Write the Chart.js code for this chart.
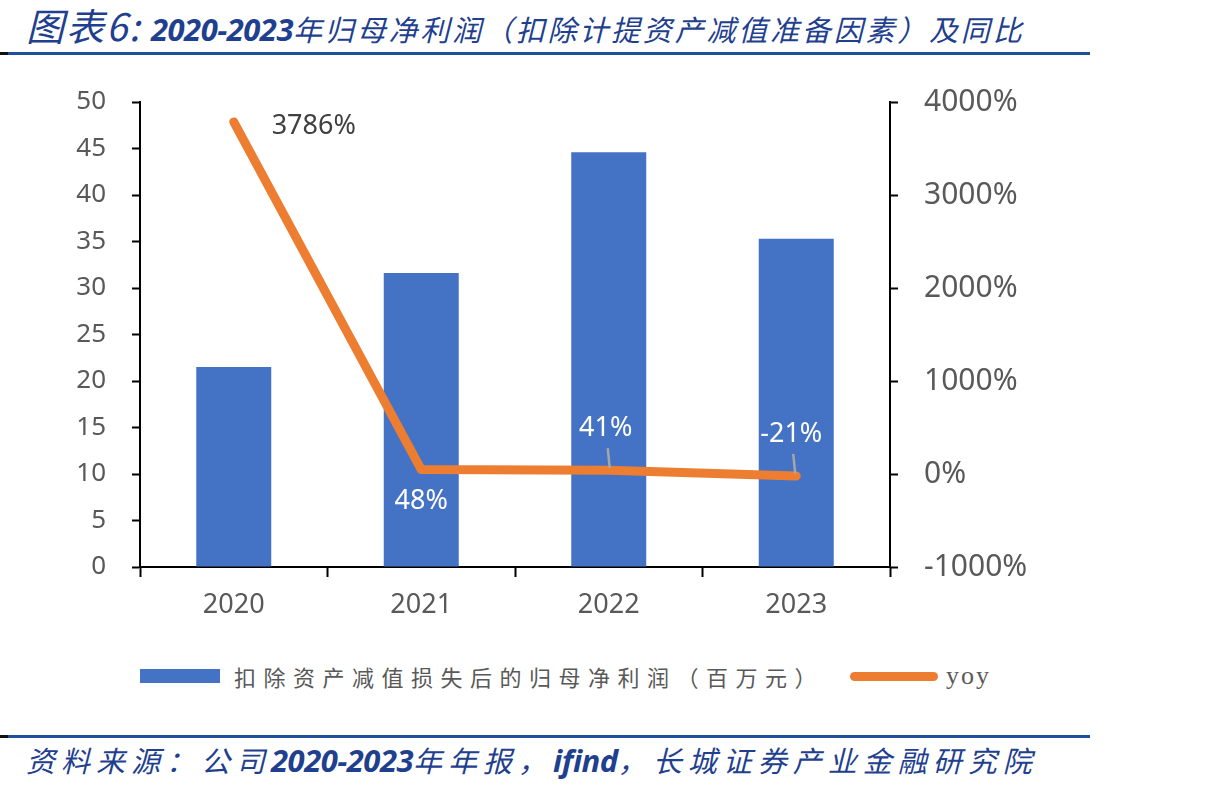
<!DOCTYPE html>
<html>
<head>
<meta charset="utf-8">
<script src="https://cdn.jsdelivr.net/npm/chart.js@4.4.0/dist/chart.umd.min.js"></script>
<style>
  body { margin: 0; width: 1210px; height: 793px; background: #fff; position: relative; overflow: hidden; font-family: "Noto Sans CJK SC", "Noto Sans", sans-serif; }
  .title { position: absolute; left: 26px; top: -3px; color: #1F3F8F; font-style: italic; font-size: 29px; letter-spacing: 2.8px; white-space: nowrap; }
  .title .big { font-size: 38px; letter-spacing: 2px; }
  .title b, .src b { font-family: "Open Sans", sans-serif; font-weight: 700; letter-spacing: -0.5px; font-size: 31px; }
  .rule { position: absolute; left: 8px; width: 1082px; height: 3px; background: #1F4E9A; }
  .rule::before { content: ""; position: absolute; left: -8px; width: 8px; height: 3px; background: #111; }
  .src { position: absolute; left: 26px; top: 738px; color: #1F3F8F; font-style: italic; font-size: 29px; letter-spacing: 6px; white-space: nowrap; }
  #wrap { position: absolute; left: 0; top: 0; width: 1210px; height: 640px; }
  .legend { position: absolute; top: 660px; left: 140px; display: flex; align-items: center; color: #595959; font-size: 22px; }
  .legend .bar { width: 80px; height: 14px; background: #4472C4; margin-right: 14px; }
  .legend .txt { letter-spacing: 7.5px; }
  .legend .line { width: 88px; height: 9px; border-radius: 5px; background: #ED7D31; margin-left: 26px; margin-right: 8px; }
  .legend .yoy { font-family: 'Liberation Serif', serif; font-size: 26px; letter-spacing: 2px; }
</style>
</head>
<body>
<div class="title"><span class="big">图表6:</span>&nbsp;<b>2020-2023</b>年归母净利润（扣除计提资产减值准备因素）及同比</div>
<div class="rule" style="top:52px"></div>
<div id="wrap"><canvas id="chart"></canvas></div>
<div class="legend"><div class="bar"></div><span class="txt">扣除资产减值损失后的归母净利润（百万元）</span><div class="line"></div><span class="yoy">yoy</span></div>
<div class="rule" style="top:735px"></div>
<div class="src">资料来源：公司<b>2020-2023</b>年年报，<b>ifind</b>，长城证券产业金融研究院</div>
<script>
// data
const years = ['2020', '2021', '2022', '2023'];
const profit = [21.5, 31.6, 44.6, 35.3];
const yoy = [3786, 48, 41, -21];
const yoyLabels = ['3786%', '48%', '41%', '-21%'];

// label placement for yoy points: dx, dy, colour, leader line
const labelStyle = [
    { dx: 80, dy: 4, color: '#404040', leader: false },
    { dx: 0, dy: 32, color: '#ffffff', leader: false },
    { dx: -3, dy: -42, color: '#ffffff', leader: true },
    { dx: -5, dy: -42, color: '#ffffff', leader: true }
];

const yoyLabelPlugin = {
    id: 'yoyLabels',
    afterDatasetsDraw(chart) {
        const ctx = chart.ctx;
        const meta = chart.getDatasetMeta(1);
        ctx.save();
        ctx.font = '27px "Noto Sans", sans-serif';
        ctx.textAlign = 'center';
        ctx.textBaseline = 'middle';
        meta.data.forEach((pt, i) => {
            const s = labelStyle[i];
            const lx = pt.x + s.dx, ly = pt.y + s.dy;
            if (s.leader) {
                ctx.strokeStyle = '#A6A6A6';
                ctx.lineWidth = 2.5;
                ctx.beginPath();
                ctx.moveTo(lx + 2, ly + 20);
                ctx.lineTo(pt.x - 1 + (i === 3 ? 0 : 2), pt.y - 2);
                ctx.stroke();
            }
            ctx.fillStyle = s.color;
            ctx.fillText(yoyLabels[i], lx, ly);
        });
        ctx.restore();
    }
};

new Chart(document.getElementById('chart').getContext('2d'), {
    data: {
        labels: years,
        datasets: [{
            type: 'bar',
            label: '扣除资产减值损失后的归母净利润（百万元）',
            data: profit,
            backgroundColor: '#4472C4',
            categoryPercentage: 1,
            barPercentage: 0.4,
            yAxisID: 'y',
            order: 2
        }, {
            type: 'line',
            label: 'yoy',
            data: yoy,
            borderColor: '#ED7D31',
            borderWidth: 9,
            borderCapStyle: 'round',
            borderJoinStyle: 'round',
            pointRadius: 0,
            tension: 0,
            yAxisID: 'y1',
            order: 1
        }]
    },
    options: {
        responsive: true,
        maintainAspectRatio: false,
        animation: false,
        layout: { padding: { top: 102, left: 0, right: 0, bottom: 0 } },
        plugins: { legend: { display: false }, tooltip: { enabled: false } },
        scales: {
            x: {
                grid: { offset: true, drawOnChartArea: false, tickLength: 10, tickColor: '#000', tickWidth: 2 },
                border: { color: '#000', width: 2 },
                ticks: { color: '#595959', font: { family: '"Noto Sans", sans-serif', size: 27 }, padding: 12 },
                afterFit(scale) { scale.height = 73; }
            },
            y: {
                position: 'left',
                min: 0, max: 50,
                ticks: { stepSize: 5, color: '#595959', font: { family: '"Noto Sans", sans-serif', size: 26 }, padding: 26 },
                grid: { drawOnChartArea: false, tickLength: 8, tickColor: '#000', tickWidth: 2 },
                border: { color: '#000', width: 2 },
                afterFit(scale) { scale.width = 140; }
            },
            y1: {
                position: 'right',
                min: -1000, max: 4000,
                ticks: { stepSize: 1000, color: '#595959', font: { family: '"Noto Sans", sans-serif', size: 30 }, padding: 26,
                    callback: v => v + '%' },
                grid: { drawOnChartArea: false, tickLength: 8, tickColor: '#000', tickWidth: 2 },
                border: { color: '#000', width: 2 },
                afterFit(scale) { scale.width = 320; }
            }
        }
    },
    plugins: [yoyLabelPlugin]
});
</script>
</body>
</html>
